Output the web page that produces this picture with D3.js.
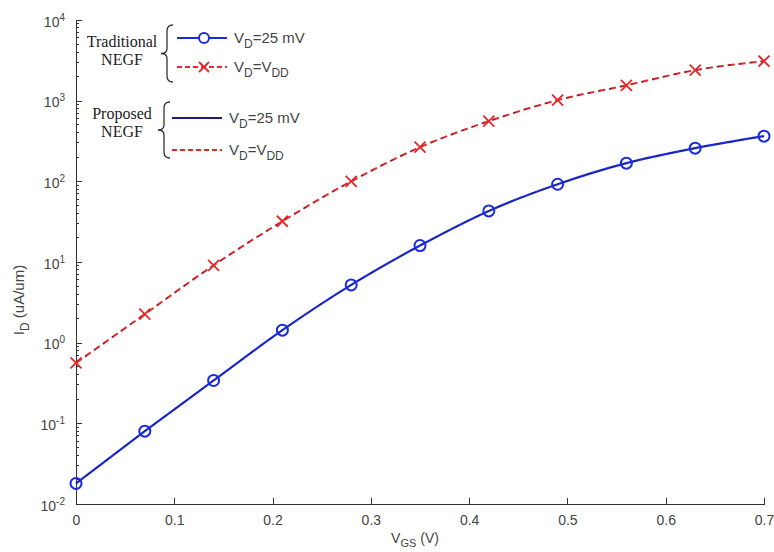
<!DOCTYPE html>
<html>
<head>
<style>
body { margin: 0; background: #fff; }
svg { font-family: "Liberation Sans", Arial, sans-serif; }
.axis path, .axis line { fill: none; stroke: #333; shape-rendering: crispEdges; }
.tick text { fill: #444; font-size: 14px; }
</style>
</head>
<body>
<div id="chart"></div>
<script src="https://d3js.org/d3.v7.min.js"></script>
<script>
var vgs = [0, 0.07, 0.14, 0.21, 0.28, 0.35, 0.42, 0.49, 0.56, 0.63, 0.7];
var idLow = [0.018, 0.08, 0.34, 1.43, 5.2, 16, 43, 92, 168, 258, 363];
var idHigh = [0.56, 2.26, 9.1, 32, 100, 265, 557, 1015, 1550, 2390, 3090];
var xTicks = [0, 0.1, 0.2, 0.3, 0.4, 0.5, 0.6, 0.7];
var yExps = [-2, -1, 0, 1, 2, 3, 4];

var width = 774, height = 552,
    margin = {top: 20, right: 10, bottom: 48, left: 76};

var svg = d3.select('#chart').append('svg')
  .attr('width', width).attr('height', height);

var x = d3.scaleLinear().domain([0, 0.7]).range([margin.left, 764]);
var y = d3.scaleLog().domain([0.01, 10000]).range([height - margin.bottom, margin.top]);

// x axis
var xAxis = d3.axisBottom(x).tickValues(xTicks).tickSizeInner(-6).tickSizeOuter(0).tickPadding(11)
  .tickFormat(d => d === 0 ? '0' : d3.format('.1f')(d));
svg.append('g').attr('class', 'x axis')
  .attr('transform', `translate(0,${height - margin.bottom})`)
  .call(xAxis);

// y axis (log, minor ticks inside)
var yAxis = d3.axisLeft(y).tickValues(yExps.map(e => Math.pow(10, e)))
  .tickSizeInner(-6).tickSizeOuter(0).tickPadding(8).tickFormat('');
var gy = svg.append('g').attr('class', 'y axis')
  .attr('transform', `translate(${margin.left},0)`)
  .call(yAxis);

var minor = y.ticks().filter(v => Math.abs(Math.log10(v) - Math.round(Math.log10(v))) > 1e-6);
gy.selectAll('.minor').data(minor).enter().append('line')
  .attr('class', 'minor')
  .attr('x1', 0).attr('x2', 3)
  .attr('y1', d => y(d)).attr('y2', d => y(d))
  .attr('stroke', '#333');

gy.selectAll('.tick').each(function(d) {
  var t = d3.select(this).append('text')
    .attr('x', -11).attr('dy', '0.45em').attr('text-anchor', 'end')
    .style('font-size', '14px').attr('fill', '#444');
  t.append('tspan').text('10');
  t.append('tspan').attr('dy', '-0.6em').style('font-size', '10px')
    .text(Math.round(Math.log10(d)));
});

// axis labels
var xl = svg.append('text').attr('x', 415).attr('y', 543)
  .attr('text-anchor', 'middle').style('font-size', '14px').attr('fill', '#444');
xl.append('tspan').text('V');
xl.append('tspan').attr('dy', '4').style('font-size', '11px').text('GS');
xl.append('tspan').attr('dy', '-4').text(' (V)');

var yl = svg.append('text').attr('transform', 'translate(24,300) rotate(-90)')
  .attr('text-anchor', 'middle').style('font-size', '15px').attr('fill', '#444');
yl.append('tspan').text('I');
yl.append('tspan').attr('dy', '5').style('font-size', '12px').text('D');
yl.append('tspan').attr('dy', '-5').text(' (uA/um)');

// lines
var line = d3.line().x(d => x(d[0])).y(d => y(d[1])).curve(d3.curveMonotoneX);
var lowPts = vgs.map((v, i) => [v, idLow[i]]);
var highPts = vgs.map((v, i) => [v, idHigh[i]]);

svg.append('path').datum(highPts).attr('d', line)
  .attr('fill', 'none').attr('stroke', '#e8262a').attr('stroke-width', 2)
  .attr('stroke-dasharray', '7,4');
svg.append('path').datum(highPts).attr('d', line)
  .attr('fill', 'none').attr('stroke', '#3a2a40').attr('stroke-width', 0.8)
  .attr('stroke-dasharray', '3,8');

svg.append('path').datum(lowPts).attr('d', line)
  .attr('fill', 'none').attr('stroke', '#1a2ae0').attr('stroke-width', 2.2);
svg.append('path').datum(lowPts).attr('d', line)
  .attr('fill', 'none').attr('stroke', '#202050').attr('stroke-width', 0.8)
  .attr('stroke-dasharray', '6,6');

// markers
svg.selectAll('.mk-o').data(lowPts).enter().append('circle')
  .attr('cx', d => x(d[0])).attr('cy', d => y(d[1])).attr('r', 5.5)
  .attr('fill', 'none').attr('stroke', '#1a2ae0').attr('stroke-width', 2);

var xs = 5.5;
svg.selectAll('.mk-x').data(highPts).enter().append('path')
  .attr('d', d => {
    var cx = x(d[0]), cy = y(d[1]);
    return `M${cx - xs},${cy - xs}L${cx + xs},${cy + xs}M${cx - xs},${cy + xs}L${cx + xs},${cy - xs}`;
  })
  .attr('stroke', '#e8262a').attr('stroke-width', 1.8).attr('fill', 'none');

// legend
function brace(xp, y0, y1) {
  var m = (y0 + y1) / 2;
  return `M${xp + 6},${y0} Q${xp},${y0} ${xp},${y0 + 6} L${xp},${m - 5} Q${xp},${m} ${xp - 6},${m}` +
    ` Q${xp},${m} ${xp},${m + 5} L${xp},${y1 - 6} Q${xp},${y1} ${xp + 6},${y1}`;
}
function vlabel(g, lx, ly, sub) {
  var t = g.append('text').attr('x', lx).attr('y', ly).style('font-size', '15px').attr('fill', '#444');
  t.append('tspan').text('V');
  t.append('tspan').attr('dy', 5).style('font-size', '12px').text('D');
  if (sub) {
    t.append('tspan').attr('dy', -5).text('=V');
    t.append('tspan').attr('dy', 5).style('font-size', '12px').text('DD');
  } else {
    t.append('tspan').attr('dy', -5).text('=25 mV');
  }
}

var leg = svg.append('g');
var groups = [
  {names: ['Traditional', 'NEGF'], ty: [47, 65], tx: 122, bx: 167, by: [25, 82], lx: [177, 227], ly: [38, 67], markers: true},
  {names: ['Proposed', 'NEGF'], ty: [119, 137], tx: 122, bx: 164, by: [102, 158], lx: [172, 222], ly: [118, 150], markers: false}
];
groups.forEach(gp => {
  gp.names.forEach((n, i) => {
    leg.append('text').attr('x', gp.tx).attr('y', gp.ty[i])
      .attr('text-anchor', 'middle')
      .style('font-family', '"Liberation Serif", "Times New Roman", serif')
      .style('font-size', '16px').attr('fill', '#222').text(n);
  });
  leg.append('path').attr('d', brace(gp.bx, gp.by[0], gp.by[1]))
    .attr('fill', 'none').attr('stroke', '#333').attr('stroke-width', 1.3);
  leg.append('line').attr('x1', gp.lx[0]).attr('x2', gp.lx[1])
    .attr('y1', gp.ly[0]).attr('y2', gp.ly[0])
    .attr('stroke', gp.markers ? '#1a2ae0' : '#1a1a80').attr('stroke-width', 2);
  leg.append('line').attr('x1', gp.lx[0]).attr('x2', gp.lx[1])
    .attr('y1', gp.ly[1]).attr('y2', gp.ly[1])
    .attr('stroke', '#e8262a').attr('stroke-width', 2).attr('stroke-dasharray', '5,3');
  if (gp.markers) {
    var cx = (gp.lx[0] + gp.lx[1]) / 2 + 2;
    leg.append('circle').attr('cx', cx).attr('cy', gp.ly[0]).attr('r', 5)
      .attr('fill', '#fff').attr('stroke', '#1a2ae0').attr('stroke-width', 2);
    leg.append('path')
      .attr('d', `M${cx - 5},${gp.ly[1] - 5}L${cx + 5},${gp.ly[1] + 5}M${cx - 5},${gp.ly[1] + 5}L${cx + 5},${gp.ly[1] - 5}`)
      .attr('stroke', '#e8262a').attr('stroke-width', 1.8);
  }
  vlabel(leg, gp.lx[1] + 7, gp.ly[0] + 5, false);
  vlabel(leg, gp.lx[1] + 7, gp.ly[1] + 5, true);
});
</script>
</body>
</html>
